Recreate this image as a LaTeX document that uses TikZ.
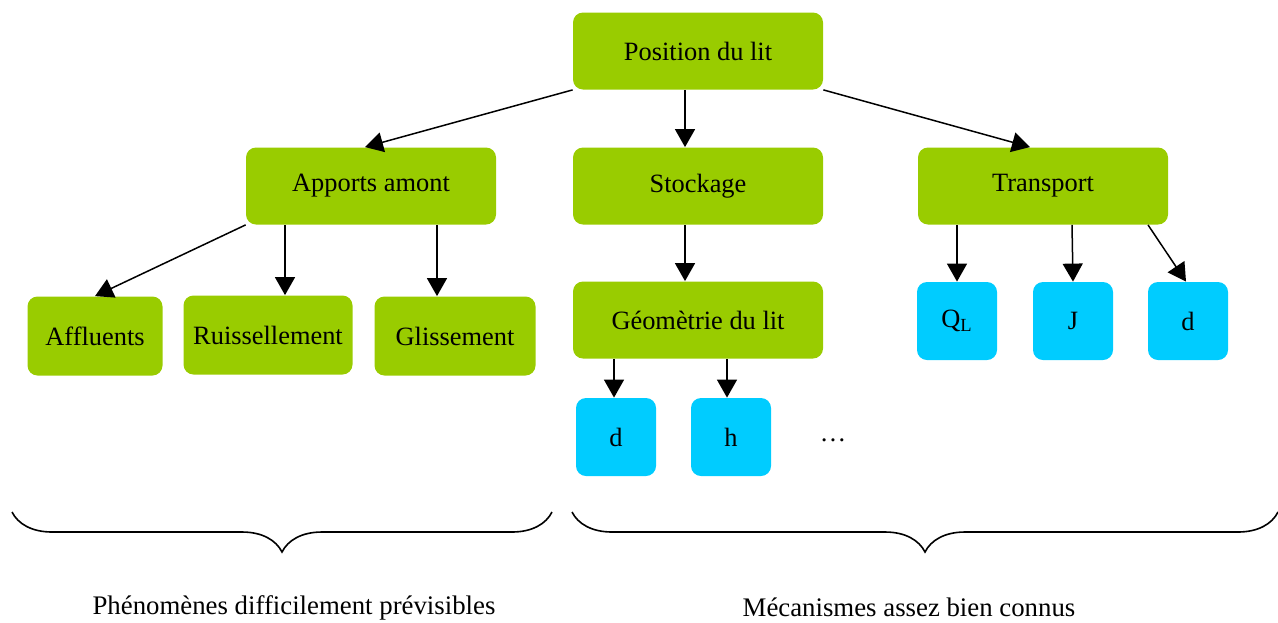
\documentclass[tikz,border=0pt]{standalone}
\usepackage{fontspec}
\setmainfont{Liberation Serif}
\usetikzlibrary{arrows.meta,decorations.pathreplacing}
\definecolor{vert}{HTML}{99CC00}
\definecolor{bleu}{HTML}{00CCFF}
\newcommand{\Boite}{\fontsize{13.2}{16}\selectfont}
\newcommand{\Legende}{\fontsize{13.4}{16}\selectfont}

\begin{document}
\begin{tikzpicture}[x=0.5pt,y=-0.5pt,
    boite/.style={fill=vert, rounded corners=5pt, minimum width=125pt, minimum height=38.5pt, font=\Boite},
    petite/.style={fill=vert, rounded corners=5pt, minimum height=39.5pt, font=\Boite},
    feuille/.style={fill=bleu, rounded corners=5pt, minimum width=40pt, minimum height=39pt, font=\Boite},
    fleche/.style={-{Triangle[length=9pt,width=10pt]}, line width=0.75pt},
    accolade/.style={decorate, decoration={brace, mirror, amplitude=20pt}, line width=0.8pt}]

    \useasboundingbox (0,0) rectangle (1278,622);

    \draw(698,51) node[boite] (P) {Position du lit};
    \draw(371,186) node[boite] (A) {Apports amont};
    \draw(698,186) node[boite] (S) {Stockage};
    \draw(1043,186) node[boite] (T) {Transport};

    \draw(95,336) node[petite, minimum width=67.5pt] (Af) {Affluents};
    \draw(268,335) node[petite, minimum width=84.5pt] (Ru) {Ruissellement};
    \draw(455,336) node[petite, minimum width=80.5pt] (Gl) {Glissement};
    \draw(698,320) node[boite] (G) {Géomètrie du lit};

    \draw(616,437) node[feuille] (Gd) {d};
    \draw(731,437) node[feuille] (Gh) {h};
    \draw(833,440) node[font=\Boite] (etc) {…};
    \draw(957,321) node[feuille] (Q) {Q\textsubscript{L}};
    \draw(1073,321) node[feuille] (J) {J};
    \draw(1188,321) node[feuille] (Td) {d};

    \draw[fleche] (P.south west) to ([xshift=-3pt]A.north);
    \draw[fleche] ([xshift=-6.5pt]P.south) to ([xshift=-6.5pt]S.north);
    \draw[fleche] (P.south east) to ([xshift=-6.5pt]T.north);

    \draw[fleche] (A.south west) to (Af.north);
    \draw[fleche] ([xshift=-43pt]A.south) to ([xshift=8.5pt]Ru.north);
    \draw[fleche] ([xshift=33pt]A.south) to ([xshift=-9pt]Gl.north);

    \draw[fleche] ([xshift=-6.5pt]S.south) to ([xshift=-6.5pt]G.north);
    \draw[fleche] ([xshift=-42pt]G.south) to ([xshift=-1pt]Gd.north);
    \draw[fleche] ([xshift=14.5pt]G.south) to ([xshift=-2pt]Gh.north);

    \draw[fleche] ([xshift=-43pt]T.south) to (Q.north);
    \draw[fleche] ([xshift=14.5pt]T.south) to (J.north);
    \draw[fleche] ([xshift=52.5pt]T.south) to ([xshift=-1pt]Td.north);

    \draw[accolade] (12,512) -- (552,512);
    \draw[accolade] (572,512) -- (1278,512);
    \draw(294,608) node[font=\Legende] (phen) {Phénomènes difficilement prévisibles};
    \draw(909,607) node[font=\Legende] (meca) {Mécanismes assez bien connus};

    \end{tikzpicture}
\end{document}
